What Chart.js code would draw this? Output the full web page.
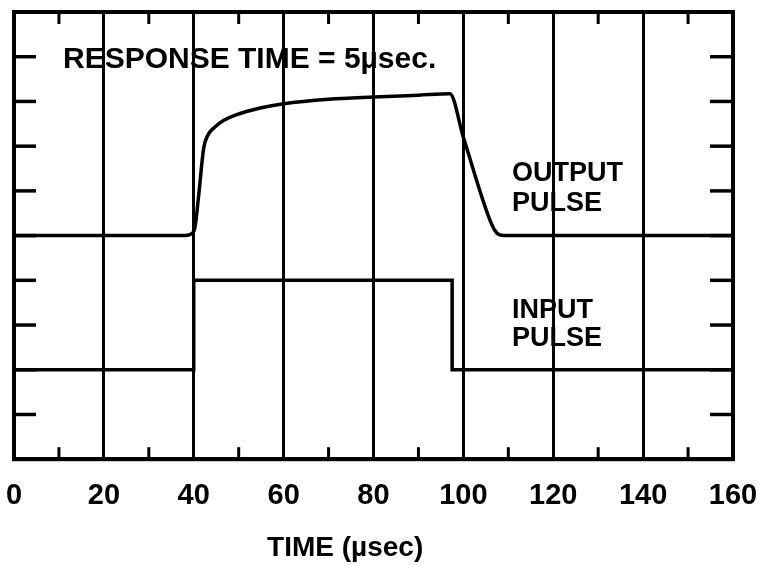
<!DOCTYPE html>
<html>
<head>
<meta charset="utf-8">
<script src="https://cdn.jsdelivr.net/npm/chart.js@4/dist/chart.umd.min.js"></script>
<style>
  html, body { margin: 0; padding: 0; background: #fff; }
  #wrap { width: 759px; height: 565px; }
</style>
</head>
<body>
<div id="wrap"><canvas id="c" width="759" height="565"></canvas></div>
<script>
// ---- data (time in µsec, signal level in grid divisions) ----
const outputTime  = [0, 38, 39.3, 40.2, 41.1, 42.2, 43.1, 44.6, 46.7, 49.1, 55, 60, 70, 80, 90, 97, 100, 106.3, 107.5, 109, 160];
const outputLevel = [5, 5, 5.03, 5.15, 5.9, 6.95, 7.24, 7.42, 7.58, 7.69, 7.86, 7.95, 8.05, 8.1, 8.14, 8.17, 7.2, 5.25, 5.05, 5, 5];
const inputTime   = [0, 40, 40, 97.5, 97.5, 160];
const inputLevel  = [2, 2, 4, 4, 2, 2];
const xTickValues = [0, 20, 40, 60, 80, 100, 120, 140, 160];
const xMinorTicks = [10, 30, 50, 70, 90, 110, 130, 150];
const yTickValues = [1, 2, 3, 4, 5, 6, 7, 8, 9];
const headline    = "RESPONSE TIME = 5µsec.";
const outputLabel = ["OUTPUT", "PULSE"];
const inputLabel  = ["INPUT", "PULSE"];
const axisTitle   = "TIME (µsec)";

const toPoints = (xs, ys) => xs.map((x, i) => ({ x: x, y: ys[i] }));

const FONT = "'Liberation Sans', Arial, sans-serif";

const framePlugin = {
  id: 'frame',
  afterDraw(chart) {
    const ctx = chart.ctx;
    const a = chart.chartArea;
    const xs = chart.scales.x, ys = chart.scales.y;
    ctx.save();
    ctx.strokeStyle = '#000';
    ctx.lineCap = 'butt';
    // inward ticks on left & right
    ctx.lineWidth = 3.5;
    yTickValues.forEach(v => {
      const y = ys.getPixelForValue(v);
      ctx.beginPath(); ctx.moveTo(a.left, y); ctx.lineTo(a.left + 22, y); ctx.stroke();
      ctx.beginPath(); ctx.moveTo(a.right, y); ctx.lineTo(a.right - 23, y); ctx.stroke();
    });
    // inward minor ticks top & bottom
    ctx.lineWidth = 3;
    xMinorTicks.forEach(t => {
      const x = xs.getPixelForValue(t);
      ctx.beginPath(); ctx.moveTo(x, a.top); ctx.lineTo(x, a.top + 12); ctx.stroke();
      ctx.beginPath(); ctx.moveTo(x, a.bottom); ctx.lineTo(x, a.bottom - 12); ctx.stroke();
    });
    // frame
    ctx.lineWidth = 4;
    ctx.strokeRect(a.left, a.top, a.right - a.left, a.bottom - a.top);

    // texts
    ctx.fillStyle = '#000';
    ctx.textAlign = 'left';
    ctx.textBaseline = 'alphabetic';
    ctx.font = 'bold 30px ' + FONT;
    ctx.fillText(headline, xs.getPixelForValue(10.9), ys.getPixelForValue(8.74));
    ctx.font = 'bold 27px ' + FONT;
    ctx.fillText(outputLabel[0], xs.getPixelForValue(110.8), ys.getPixelForValue(6.23));
    ctx.fillText(outputLabel[1], xs.getPixelForValue(110.8), ys.getPixelForValue(5.54));
    ctx.fillText(inputLabel[0], xs.getPixelForValue(110.8), ys.getPixelForValue(3.16));
    ctx.fillText(inputLabel[1], xs.getPixelForValue(110.8), ys.getPixelForValue(2.53));
    // axis title
    ctx.textAlign = 'center';
    ctx.font = 'bold 28px ' + FONT;
    ctx.fillText(axisTitle, xs.getPixelForValue(73.7), a.bottom + 97);
    ctx.restore();
  }
};

new Chart(document.getElementById('c'), {
  type: 'line',
  data: {
    datasets: [
      {
        label: 'Output pulse',
        data: toPoints(outputTime, outputLevel),
        borderColor: '#000',
        borderWidth: 3.5,
        pointRadius: 0,
        cubicInterpolationMode: 'monotone',
        fill: false
      },
      {
        label: 'Input pulse',
        data: toPoints(inputTime, inputLevel),
        borderColor: '#000',
        borderWidth: 3.5,
        pointRadius: 0,
        tension: 0,
        fill: false
      }
    ]
  },
  options: {
    responsive: false,
    animation: false,
    devicePixelRatio: 1,
    layout: { padding: { left: 14, right: 26, top: 12, bottom: 33 } },
    plugins: { legend: { display: false }, tooltip: { enabled: false }, title: { display: false } },
    scales: {
      x: {
        type: 'linear',
        min: 0, max: 160,
        afterBuildTicks: (scale) => { scale.ticks = xTickValues.map(v => ({ value: v })); },
        afterFit: (scale) => { scale.paddingLeft = 0; scale.paddingRight = 0; },
        ticks: {
          color: '#000',
          padding: 19,
          maxRotation: 0,
          autoSkip: false,
          font: { family: FONT, size: 29, weight: 'bold' }
        },
        grid: { color: '#000', lineWidth: 3, drawTicks: false },
        border: { display: true, color: '#000', width: 4 }
      },
      y: {
        type: 'linear',
        display: false,
        min: 0, max: 10
      }
    }
  },
  plugins: [framePlugin]
});
</script>
</body>
</html>
